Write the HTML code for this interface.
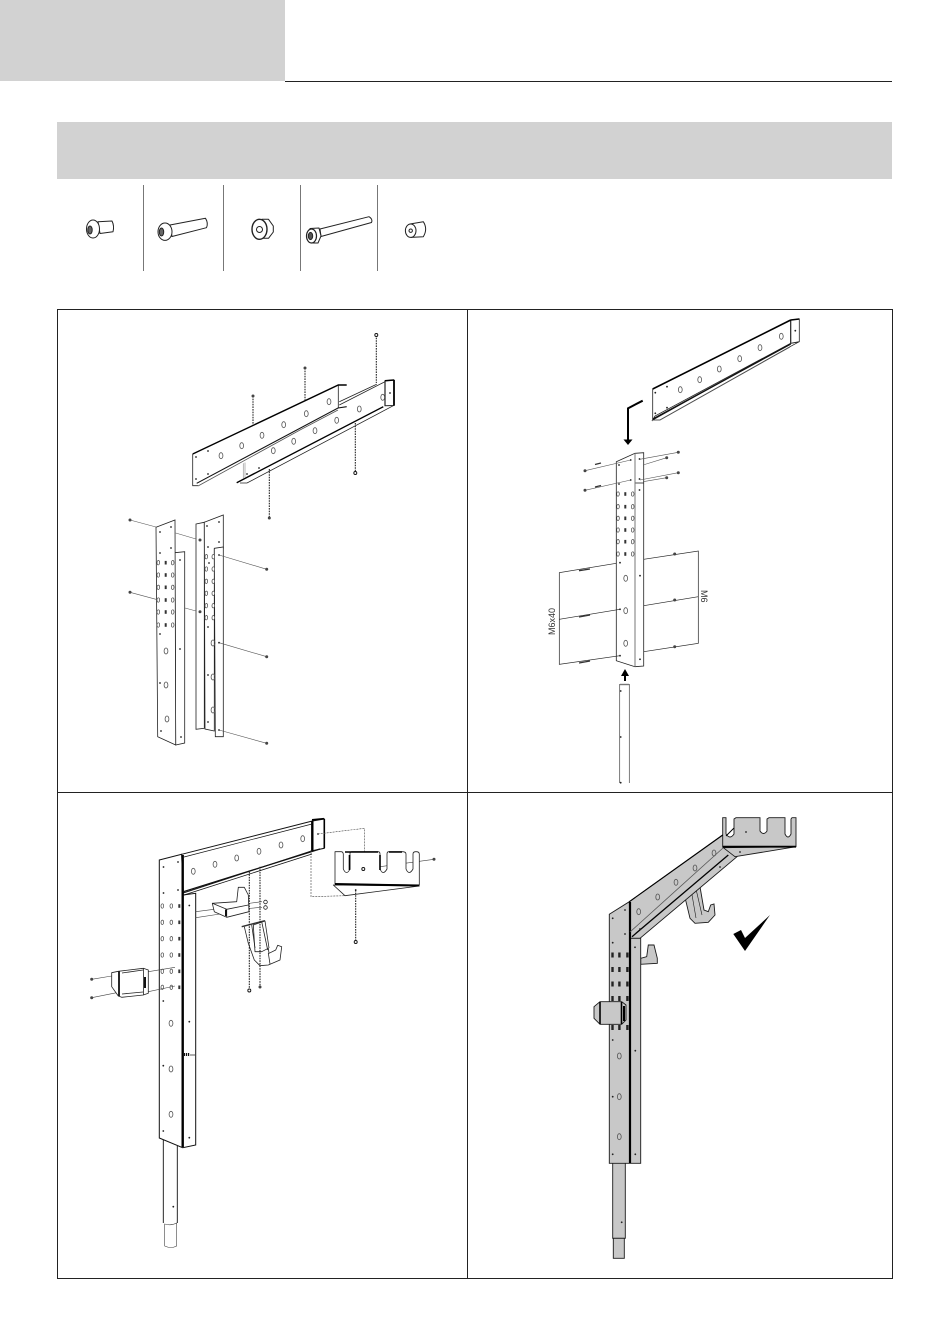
<!DOCTYPE html>
<html><head><meta charset="utf-8"><style>
html,body{margin:0;padding:0;background:#fff}
svg{display:block}
text{font-family:"Liberation Sans",sans-serif}
</style></head><body>
<svg xmlns="http://www.w3.org/2000/svg" width="950" height="1344" viewBox="0 0 950 1344">
<defs>
<ellipse id="h" rx="1.3" ry="2.2" fill="#fff" stroke="#444" stroke-width=".7"/>
<ellipse id="H" rx="1.9" ry="3" fill="none" stroke="#555" stroke-width=".8"/>
<circle id="d" r=".9" fill="#222"/>
<rect id="s" x="-1" y="-1.8" width="2" height="3.6" fill="#333"/>
<circle id="n" r="1.5" fill="#444"/>
<circle id="o" r="1.5" fill="#fff" stroke="#111" stroke-width=".9"/>
</defs>
<rect x="0" y="0" width="285" height="81" fill="#d2d2d2"/>
<line x1="285" y1="81.5" x2="892" y2="81.5" stroke="#222" stroke-width="1"/>
<rect x="57" y="122" width="835" height="57" fill="#d2d2d2"/>
<g stroke="#777" stroke-width="1"><line x1="143.5" y1="185" x2="143.5" y2="271"/><line x1="223.5" y1="185" x2="223.5" y2="271"/><line x1="300.5" y1="185" x2="300.5" y2="271"/><line x1="377.5" y1="185" x2="377.5" y2="271"/></g>
<!-- hardware -->
<g fill="#fff" stroke="#222" stroke-width="1" stroke-linejoin="round">
<path d="M98 221.7L112 221Q114.5 226 113 231.7L100 233.5Z"/><ellipse cx="93" cy="229" rx="6.5" ry="9"/><ellipse cx="90" cy="230" rx="2.2" ry="4" fill="#666"/>
<path d="M170 225L205.5 218.3Q208.5 223 206.5 227.7L172 236.5Z"/><ellipse cx="165" cy="231.7" rx="7" ry="8.7"/><ellipse cx="161.5" cy="232" rx="2.2" ry="4" fill="#666"/>
<path d="M262 219.3L268.5 219.3L273.3 226V232L268.5 238.3H262Z"/><ellipse cx="259.5" cy="229.3" rx="7.5" ry="10" stroke-width="1.4"/><circle cx="259.5" cy="229.5" r="3"/>
<path d="M320 229L369 216.7Q373 219 371.5 222.5L321 236.5Z"/><path d="M310 228.5L319 228L321 236L318 243H311Z"/><ellipse cx="311.5" cy="236" rx="5" ry="7" stroke-width="1.2"/><ellipse cx="310.5" cy="236" rx="2.2" ry="3.6" fill="#555"/>
<path d="M410 224L423.3 221.7Q428 229 423.3 236.7L411 237.4Z"/><ellipse cx="410.7" cy="230.7" rx="5.3" ry="6.7"/><circle cx="410.7" cy="230.7" r="1.7"/>
</g>
<!-- frame -->
<rect x="57.5" y="309.5" width="835" height="969" fill="none" stroke="#222" stroke-width="1"/>
<line x1="467.5" y1="309" x2="467.5" y2="1278" stroke="#222"/><line x1="57" y1="792.5" x2="892" y2="792.5" stroke="#222"/>

<!-- PANEL 1 -->
<path d="M243.3 463.3V478.3M245 462.5V477.5" stroke="#999" stroke-width=".7" fill="none"/>
<g stroke="#222" stroke-width=".8" fill="none">
<path d="M330 420L339.3 405L385 381.7L394 380V405.5L383.3 409L246.7 482.7H236.7Z" fill="#fff" stroke="none"/>
<path d="M339.3 401.7L376.7 384.3M339.3 405L385 381.7"/>
<path d="M385 380.7L394 380V405.5L385 405.7Z" stroke-width="1"/>
<path d="M394 380V405.5" stroke-width="1.8" stroke="#000"/>
<path d="M385 381V405.7" stroke-width="1.2"/>
<path d="M385 380.8L394 380" stroke-width="1.5" stroke="#000"/>
<path d="M236.7 482.7L383.3 406.7" stroke-width="1.4" stroke="#000"/>
<path d="M240 483H247L393.3 405.7"/>
<path d="M192.7 454L338.3 385L346.7 384.3L338.3 391V408.3L198 486H192.7Z" fill="#fff" stroke="none"/>
<path d="M192.7 454V485.7H198"/>
<path d="M338.3 385V408.3"/>
<path d="M192.7 454L338.3 385H346.7" stroke-width="1.4" stroke="#000"/>
<path d="M196.7 483.3L338 408L346.7 406.7" stroke-width="1.1" stroke="#111"/>
<path d="M198 486L300 430L338 410" stroke="#555"/>
</g>
<g stroke="#111" stroke-width="1" stroke-dasharray="1.6 1"><line x1="253" y1="396" x2="253" y2="425"/><line x1="305" y1="368" x2="305" y2="400"/><line x1="376.3" y1="335" x2="376.3" y2="383"/><line x1="355.3" y1="423" x2="355.3" y2="473"/><line x1="269.3" y1="469" x2="269.3" y2="518"/></g>
<use href="#n" x="253" y="396"/><use href="#n" x="305" y="368"/><use href="#o" x="376.3" y="335"/><use href="#o" x="355.3" y="473"/><use href="#n" x="269.3" y="518"/>
<g><use href="#H" x="221" y="455.7"/><use href="#H" x="241.7" y="445.7"/><use href="#H" x="262" y="435.3"/><use href="#H" x="283.7" y="424.7"/><use href="#H" x="306.3" y="413.7"/><use href="#H" x="329" y="401.7"/><use href="#H" x="273.3" y="450.7"/><use href="#H" x="293.7" y="441.3"/><use href="#H" x="315" y="430.7"/><use href="#H" x="336.7" y="420.3"/><use href="#H" x="359.3" y="409"/><use href="#H" x="382.7" y="397.3"/>
<use href="#d" x="196" y="457"/><use href="#d" x="208" y="451"/><use href="#d" x="196" y="479"/><use href="#d" x="208" y="474"/><use href="#d" x="247" y="474"/><use href="#d" x="259" y="468"/><use href="#d" x="390" y="393"/></g>
<g stroke="#222" stroke-width=".8" fill="#fff">
<path d="M175 552.7L184.7 551.7V743L175.7 745Z"/>
<path d="M156 527.3L175 520L175.7 745L157.7 736.7Z"/>
<path d="M196 524L204.3 522.3V728.3L196 729.3Z"/>
<path d="M204.3 522.3L223.3 515V548L214.3 549V731L205 729Z"/>
<path d="M214.3 548.3L223.3 547V736.7H215.3Z"/>
</g>
<g stroke="#555" stroke-width=".6" fill="none"><path d="M130 520L156 527M130 592.3L156 599.3M175.7 533L196 539M185 608L196 611M219 555L266.7 569.3M219 642.7L266.7 656.7M219 730L266.7 743.3"/></g>
<g><use href="#n" x="130" y="520"/><use href="#n" x="130" y="592.3"/><use href="#n" x="266.7" y="569.3"/><use href="#n" x="266.7" y="656.7"/><use href="#n" x="266.7" y="743.3"/><use href="#n" x="200" y="540"/><use href="#n" x="200" y="611.7"/>
<use href="#d" x="160" y="532"/><use href="#d" x="171" y="527"/><use href="#d" x="160" y="553"/><use href="#d" x="171" y="548"/><use href="#d" x="160" y="634"/><use href="#d" x="180" y="560"/><use href="#d" x="180" y="649"/><use href="#d" x="160" y="683"/><use href="#d" x="161" y="731"/><use href="#d" x="181" y="737"/><use href="#d" x="207" y="526"/><use href="#d" x="219" y="522"/><use href="#d" x="208" y="547"/><use href="#d" x="219" y="542"/><use href="#d" x="209" y="563"/><use href="#d" x="208" y="627"/><use href="#d" x="208" y="675"/><use href="#d" x="208" y="722"/><use href="#d" x="219" y="555"/><use href="#d" x="219" y="642.7"/><use href="#d" x="219" y="730"/></g>
<g id="g1">
<use href="#h" x="158.3" y="562.7"/><use href="#s" x="165.7" y="562.7"/><use href="#h" x="172.7" y="562.7"/>
<use href="#h" x="158.3" y="575"/><use href="#s" x="165.7" y="575"/><use href="#h" x="172.7" y="575"/>
<use href="#h" x="158.3" y="587.3"/><use href="#s" x="165.7" y="587.3"/><use href="#h" x="172.7" y="587.3"/>
<use href="#h" x="158.3" y="600"/><use href="#s" x="165.7" y="600"/><use href="#h" x="172.7" y="600"/>
<use href="#h" x="158.3" y="612"/><use href="#s" x="165.7" y="612"/><use href="#h" x="172.7" y="612"/>
<use href="#h" x="158.3" y="625"/><use href="#s" x="165.7" y="625"/><use href="#h" x="172.7" y="625"/></g>
<use href="#H" x="166" y="651"/><use href="#H" x="166" y="685"/><use href="#H" x="167" y="719"/>
<g><use href="#h" x="206.3" y="556.7"/><use href="#h" x="213.3" y="556.7"/><use href="#h" x="206.3" y="569"/><use href="#h" x="213.3" y="569"/><use href="#h" x="206.3" y="581.3"/><use href="#h" x="213.3" y="581.3"/><use href="#h" x="206.3" y="593.3"/><use href="#h" x="213.3" y="593.3"/><use href="#h" x="206.3" y="605.7"/><use href="#h" x="213.3" y="605.7"/><use href="#h" x="206.3" y="617.7"/><use href="#h" x="213.3" y="617.7"/>
<use href="#H" x="213" y="643"/><use href="#H" x="213" y="677"/><use href="#H" x="213" y="710"/></g>

<!-- PANEL 2 -->
<g stroke="#222" stroke-width=".8" fill="#fff">
<path d="M652.7 420H660L790 346.7L799.3 341.7L790.7 343.3Z"/>
<path d="M652.7 389L790.7 320L799.3 319V341.7L790.7 343.3L655 416L652.7 420Z"/>
<line x1="790.7" y1="320" x2="790.7" y2="343.3" stroke-width="1.2"/>
<line x1="652.7" y1="389" x2="790.7" y2="320" stroke-width="1.6" stroke="#000"/>
<line x1="653" y1="419" x2="790.7" y2="344" stroke-width="1.4" stroke="#111"/>
<path d="M660 420L790 347" fill="none" stroke="#555"/>
<path d="M790.7 320L799.3 319" stroke-width="1.6" stroke="#000"/>
</g>
<g><use href="#H" x="680.3" y="389.7"/><use href="#H" x="699.7" y="379.7"/><use href="#H" x="719.3" y="369"/><use href="#H" x="739.7" y="358.7"/><use href="#H" x="760" y="347.7"/><use href="#H" x="781.3" y="336.3"/>
<use href="#d" x="655.3" y="392.7"/><use href="#d" x="667" y="386.7"/><use href="#d" x="655.3" y="413.3"/><use href="#d" x="667" y="407.7"/><use href="#d" x="795.3" y="330.7"/></g>
<path d="M642.7 400.7L628 408.3V440" fill="none" stroke="#000" stroke-width="2"/><path d="M623.5 439.5H632.5L628 445Z" fill="#000"/>
<path d="M616.3 461.7L635 453.3L643.7 452.7V666L635 666.7L616.3 660.7Z" fill="#fff" stroke="#222" stroke-width=".8"/>
<path d="M635 453.3V666.7" stroke="#777" stroke-width="1"/><path d="M635.5 483H643.7" stroke="#222" stroke-width=".8"/>
<g stroke="#555" stroke-width=".55" fill="none"><path d="M585 470.7L630.7 460M585 490.3L630.7 480M639.7 459.3L678.3 452.3M640 480L678.3 472.7M643 465L666.7 457.7M643 481.7L666.7 477.7"/></g>
<g stroke="#222" stroke-width=".7" fill="none"><path d="M616.3 563.3L559.3 572.7V664.3L620 655.7M559.3 619.3L620 609.3M643.7 559.3L698.3 551V643.3L643.7 651.7M643.7 605.7L698.3 596.7"/></g>
<g stroke="#333" stroke-width="1.3"><line x1="579" y1="570.7" x2="590" y2="569"/><line x1="579" y1="617" x2="590" y2="615"/><line x1="579" y1="663" x2="590" y2="661"/><line x1="595" y1="464.5" x2="601" y2="463"/><line x1="595" y1="487" x2="601" y2="485.5"/></g>
<use href="#n" x="674.7" y="554"/><use href="#n" x="674.7" y="600"/><use href="#n" x="674.7" y="646.7"/><use href="#n" x="585" y="470.7"/><use href="#n" x="585" y="490.3"/><use href="#n" x="678.3" y="452.3"/><use href="#n" x="678.3" y="472.7"/><use href="#n" x="666.7" y="457.7"/><use href="#n" x="666.7" y="477.7"/>
<g><use href="#h" x="618" y="494"/><use href="#s" x="625.3" y="494"/><use href="#h" x="632.7" y="494"/><use href="#h" x="618" y="506.7"/><use href="#s" x="625.3" y="506.7"/><use href="#h" x="632.7" y="506.7"/><use href="#h" x="618" y="518.3"/><use href="#s" x="625.3" y="518.3"/><use href="#h" x="632.7" y="518.3"/><use href="#h" x="618" y="530"/><use href="#s" x="625.3" y="530"/><use href="#h" x="632.7" y="530"/><use href="#h" x="618" y="541.7"/><use href="#s" x="625.3" y="541.7"/><use href="#h" x="632.7" y="541.7"/><use href="#h" x="618" y="554"/><use href="#s" x="625.3" y="554"/><use href="#h" x="632.7" y="554"/>
<use href="#H" x="625.7" y="578.3"/><use href="#H" x="625.7" y="610.7"/><use href="#H" x="625.7" y="643.3"/>
<use href="#d" x="620" y="562.7"/><use href="#d" x="620" y="609.3"/><use href="#d" x="620" y="655.7"/><use href="#d" x="640" y="575.7"/><use href="#d" x="640" y="659.3"/><use href="#d" x="630.7" y="460"/><use href="#d" x="619" y="465"/><use href="#d" x="630.7" y="480"/><use href="#d" x="619" y="484"/><use href="#d" x="639.5" y="459"/><use href="#d" x="639.5" y="479"/><use href="#d" x="639.5" y="490"/></g>
<text transform="translate(555,635) rotate(-90)" font-size="9" fill="#333">M6x40</text>
<text transform="translate(701,590) rotate(90)" font-size="9" fill="#333">M6</text>
<path d="M625 681V675" stroke="#000" stroke-width="2"/><path d="M621 676H629L625 669Z" fill="#000"/>
<path d="M619.7 684V783M629.3 684V783" fill="none" stroke="#444" stroke-width=".7"/><line x1="620" y1="684.5" x2="629" y2="684.5" stroke="#777" stroke-width="1.4"/>
<use href="#d" x="620.7" y="691"/><use href="#d" x="620.7" y="737"/><use href="#d" x="620.7" y="782.7"/>

<!-- PANEL 3 -->
<path d="M163.3 1139V1223M177.3 1146V1223" fill="none" stroke="#111" stroke-width=".9"/>
<path d="M164.7 1224V1246Q171 1249 176.7 1246V1223Q171 1226 164.7 1224Z" fill="#fff" stroke="#444" stroke-width=".6"/>
<g stroke="#111" stroke-width="1" fill="#fff">
<path d="M159.3 860L181.7 854.3L183 895L195.7 893.3V1145L182.7 1147.7L159.3 1138Z"/>
<path d="M181.7 854.3L312.3 821L324.3 819V848.3L312.3 850.7L183.3 893Z"/>
<line x1="182.7" y1="855" x2="182.7" y2="1147" stroke-width="2.4" stroke="#000"/>
<line x1="312.3" y1="821" x2="312.3" y2="851" stroke-width="2.4" stroke="#000"/>
<line x1="324.3" y1="819" x2="324.3" y2="848" stroke-width="1.6" stroke="#000"/>
<line x1="312" y1="819.8" x2="324" y2="818.7" stroke-width="1.6" stroke="#000"/>
<line x1="184" y1="857" x2="312" y2="824" stroke-width=".7"/>
<line x1="183.3" y1="891.7" x2="320" y2="849" stroke-width="1.2"/>
<line x1="184" y1="895" x2="312" y2="854" stroke-width=".8"/>
</g>
<g><use href="#H" x="193.3" y="871.3"/><use href="#H" x="215" y="864.3"/><use href="#H" x="236.7" y="858"/><use href="#H" x="259" y="851.3"/><use href="#H" x="281" y="845"/><use href="#H" x="302.7" y="838.7"/>
<use href="#d" x="163.5" y="867"/><use href="#d" x="178" y="862"/><use href="#d" x="163.5" y="893"/><use href="#d" x="178" y="890"/><use href="#d" x="189.3" y="905.5"/><use href="#d" x="318" y="834"/><use href="#d" x="163.3" y="1001"/><use href="#d" x="163.3" y="1065.7"/><use href="#d" x="163.3" y="1131"/><use href="#d" x="189.3" y="1021.7"/><use href="#d" x="189.3" y="1137.7"/><use href="#d" x="173.3" y="1206.7"/>
<use href="#H" x="171" y="1023.3"/><use href="#H" x="171" y="1069"/><use href="#H" x="171" y="1114.3"/></g>
<path d="M184 1054.5H190" stroke="#111" stroke-width="3" stroke-dasharray="1.2 .8"/><path d="M190 1055H195" stroke="#333" stroke-width=".8"/>
<g><use href="#h" x="162.3" y="906"/><use href="#h" x="171.3" y="906"/><use href="#s" x="179.3" y="906"/><use href="#h" x="162.3" y="922.3"/><use href="#h" x="171.3" y="922.3"/><use href="#s" x="179.3" y="922.3"/><use href="#h" x="162.3" y="938.7"/><use href="#h" x="171.3" y="938.7"/><use href="#s" x="179.3" y="938.7"/><use href="#h" x="162.3" y="955"/><use href="#h" x="171.3" y="955"/><use href="#s" x="179.3" y="955"/><use href="#h" x="162.3" y="971.3"/><use href="#h" x="171.3" y="971.3"/><use href="#s" x="179.3" y="971.3"/><use href="#h" x="162.3" y="987.3"/><use href="#h" x="171.3" y="987.3"/><use href="#s" x="179.3" y="987.3"/></g>
<g stroke="#444" stroke-width=".6" fill="none"><path d="M195.7 911.7L214 909.3M195.7 917.7L226.7 913M248 903.5L262 901.7M248 908.5L262 907.3M91.7 979.3L111.7 976M91.7 997.7L116.7 992.7M148.3 971.7L175 967.3M148.3 991.7L175 986M363.3 869L434 859.3"/><path d="M317.7 834L364.3 828.3V868M311 850V896.7L345 895.7" stroke-dasharray="2 1"/></g>
<g fill="#fff" stroke="#222" stroke-width=".8" stroke-linejoin="round">
<path d="M212.3 903.3L236.7 901.7L238.3 887.3H244.3L248.3 895L249 911.7L226.7 917.3L214.3 911.7Z"/>
<path d="M212.3 903.3L226.7 909.3L248.3 905M226.7 909.3V917" fill="none"/>
<path d="M226 909.5V916" stroke-width="2" stroke="#111"/>
<path d="M244.3 926.7L248.3 943.3L254.3 960L260 965.7L268.3 965L280 960L281.7 946.7L277.7 945.3L275.7 950L269 953.3L268.3 948.3L261.7 951.7H255L253.3 925L265 921L269 948"/>
<path d="M251.7 925L255 948M261.7 921.7L267.7 950M268.3 953L270 964" fill="none"/>
<path d="M241.7 926.7L265 920.7" stroke-width="1.4" stroke="#333" fill="none"/>
<path d="M111.7 972.7L118.3 971.3L143.3 968.3L148.3 970V993.3L143.3 995L121.7 997.3L118.3 996L111.7 986.7Z"/>
<path d="M119 971.5V996" stroke-width="1.8" stroke="#111"/><path d="M143.5 968.5V995M122 973L143 970M122 994L143 992"/>
<path d="M145 977V988" stroke-width="2" stroke="#111"/>
<!-- U bracket -->
<path d="M333.3 885L345 895.7L419.3 886Z"/>
<path d="M335 851.7H341Q343 851.7 343.3 854V869Q346.5 876 350 869V853.5Q350 851.7 352 851.7H378Q380 851.7 380 854V869Q383 876 387 869V854Q387 851.7 389 851.7H402Q406 851.7 406 854V869Q409 876 413 869V854Q413 851.7 416 851.7Q419.3 851.7 419.3 854V885L335 884Z"/>
<path d="M335 884L419.3 885.5" stroke-width="2" stroke="#000"/>
<path d="M349.5 855V870M380 855V870" stroke-width="1.6" stroke="#000"/>
<path d="M345 852H378M389 852H402" stroke-width="1.4" stroke="#000"/>
</g>
<use href="#o" x="363.3" y="869"/><use href="#n" x="434" y="859.3"/><use href="#d" x="355.7" y="890"/>
<g stroke="#111" stroke-width="1" stroke-dasharray="1.6 1"><line x1="249.3" y1="871.7" x2="249.3" y2="990"/><line x1="260" y1="866.7" x2="260" y2="986.7"/><line x1="355.7" y1="890" x2="355.7" y2="941.7"/></g>
<use href="#o" x="249.3" y="990.5"/><use href="#n" x="260" y="987"/><use href="#o" x="355.7" y="942"/><use href="#n" x="91.7" y="979.3"/><use href="#n" x="91.7" y="997.7"/>
<g stroke="#222" fill="none" stroke-width=".8"><circle cx="265.5" cy="902" r="1.8"/><circle cx="265.5" cy="907.5" r="1.8"/></g>

<!-- PANEL 4 -->
<g fill="#c8c8c8" stroke="#1a1a1a" stroke-width=".9">
<path d="M612.7 1163V1238.3H625.3V1163Z"/>
<rect x="613.3" y="1238.3" width="11" height="20"/>
<path d="M684 893.3L690 918.3L695 923.3L708.3 922.3L715 915L714 904L710.7 905L708.3 911.7L704 910L700 886.7L688 888Z"/>
<path d="M691 889L696 918M696 889L702 915" fill="none" stroke-width=".6"/>
<path d="M640.7 958.3L646.7 956.7L648.3 945H654L657.3 958.3V963.3L640.7 964.3Z"/>
<path d="M629.3 901.7L722.7 835L737 856.7L640 938.3H630Z"/>
<path d="M609.3 914.3L629.3 901.7L630.5 938.3H640.7V1163.3H609.3Z"/>
<path d="M723.3 847.7L735 856.7L796 846.7Z"/>
<path d="M722.7 817.7H726V834Q730 840 734 834V819L736 817.7H760V831Q763.5 836 767 831V819L769 817.7H785V834Q788 840 791 834V819L792 817.7H796V846.7H722.7Z"/>
<path d="M594 1006.7L600 1001.7H621.7L626 1005V1020L621.7 1024.3H600L594 1018.3Z"/>
</g>
<g stroke="#000" fill="none"><line x1="630" y1="902" x2="630" y2="1163" stroke-width="2.2"/><line x1="632" y1="936.7" x2="728.3" y2="855" stroke-width="1.3"/><line x1="630" y1="932" x2="723" y2="848" stroke-width=".8" stroke="#555"/><line x1="722.7" y1="846.7" x2="796" y2="846.7" stroke-width="1.8"/><line x1="629.3" y1="901.7" x2="722.7" y2="835" stroke-width="1.1"/><line x1="600" y1="1002" x2="600" y2="1024" stroke-width="1.6"/><line x1="621.5" y1="1002" x2="621.5" y2="1024" stroke-width="1.6"/><line x1="624" y1="1006" x2="624" y2="1021" stroke-width="2"/><line x1="734" y1="828" x2="726" y2="836" stroke-width="1"/></g>
<g><use href="#H" x="638.7" y="911.7"/><use href="#H" x="657.7" y="897"/><use href="#H" x="676" y="882.3"/><use href="#H" x="695" y="868"/><use href="#H" x="714" y="853"/>
<use href="#H" x="619.3" y="1056"/><use href="#H" x="619.3" y="1096.7"/><use href="#H" x="619.3" y="1136.7"/><use href="#d" x="612.7" y="918.3"/><use href="#d" x="625" y="910"/><use href="#d" x="625" y="934"/><use href="#d" x="612.7" y="942.7"/><use href="#d" x="635" y="947.3"/><use href="#d" x="612.7" y="1096.7"/><use href="#d" x="612.7" y="1154.3"/><use href="#d" x="635.3" y="1050.7"/><use href="#d" x="635.3" y="1154.3"/><use href="#d" x="621.7" y="1222.3"/><use href="#d" x="746" y="832"/><use href="#d" x="612.7" y="1040"/><use href="#d" x="640" y="929"/><use href="#d" x="720" y="867"/><use href="#d" x="740" y="852"/></g>
<g fill="#222"><rect x="611.3" y="952.5" width="2.4" height="5"/><rect x="618.2" y="952.5" width="2.4" height="5"/><rect x="626.2" y="952.5" width="2.4" height="5"/><rect x="611.3" y="967" width="2.4" height="5"/><rect x="618.2" y="967" width="2.4" height="5"/><rect x="626.2" y="967" width="2.4" height="5"/><rect x="611.3" y="981.5" width="2.4" height="5"/><rect x="618.2" y="981.5" width="2.4" height="5"/><rect x="626.2" y="981.5" width="2.4" height="5"/><rect x="611.3" y="996" width="2.4" height="5"/><rect x="618.2" y="996" width="2.4" height="5"/><rect x="626.2" y="996" width="2.4" height="5"/><rect x="611.3" y="1025" width="2.4" height="5"/><rect x="618.2" y="1025" width="2.4" height="5"/><rect x="626.2" y="1025" width="2.4" height="5"/></g>
<path d="M733.3 934L741 930L745 938L770 915L745 951Z" fill="#000"/>
</svg>
</body></html>
